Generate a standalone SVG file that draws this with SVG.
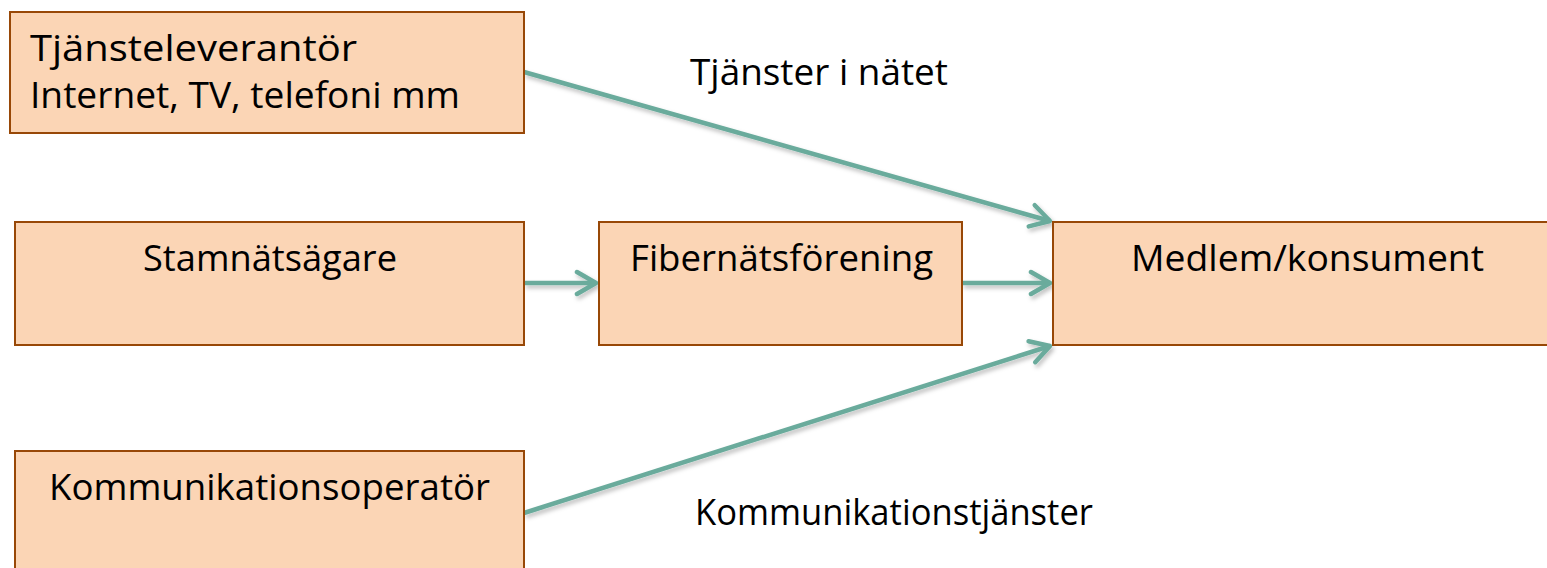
<svg xmlns="http://www.w3.org/2000/svg" width="1547" height="568" viewBox="0 0 1547 568">
<style>
.box{fill:#fbd5b5;stroke:#984807;stroke-width:2}
.t{font-family:"Open Sans","Liberation Sans",sans-serif;font-size:37px;fill:#000}
.c{fill:none;stroke:#6aab9c;stroke-width:4.5;marker-end:url(#ah)}
</style>
<defs>
<marker id="ah" markerUnits="userSpaceOnUse" viewBox="-24 -14 28 28" refX="0" refY="0" markerWidth="28" markerHeight="28" orient="auto">
<path d="M-19,-11 L0,0 L-19,11" fill="none" stroke="#6aab9c" stroke-width="4.5" stroke-linecap="round" stroke-linejoin="round"/>
</marker>
<filter id="sh" x="-10%" y="-50%" width="120%" height="200%">
<feDropShadow dx="2" dy="3" stdDeviation="2" flood-color="#000" flood-opacity="0.25"/>
</filter>
</defs>
<g id="connectors" filter="url(#sh)">
<line class="c" x1="524" y1="72" x2="1050" y2="221"/>
<line class="c" x1="524" y1="283" x2="596" y2="283"/>
<line class="c" x1="962" y1="283" x2="1050" y2="283"/>
<line class="c" x1="524" y1="513" x2="1050" y2="346"/>
</g>
<g id="label-tjanster">
<text class="t" x="690" y="85" textLength="258" lengthAdjust="spacingAndGlyphs">Tjänster i nätet</text>
</g>
<g id="label-komm">
<text class="t" x="695" y="525" textLength="398" lengthAdjust="spacingAndGlyphs">Kommunikationstjänster</text>
</g>
<g id="node-tjansteleverantor">
<rect class="box" x="10" y="12" width="514" height="121"/>
<text class="t" x="30" y="61" textLength="327" lengthAdjust="spacingAndGlyphs">Tjänsteleverantör</text>
<text class="t" x="30" y="108" textLength="430" lengthAdjust="spacingAndGlyphs">Internet, TV, telefoni mm</text>
</g>
<g id="node-stamnatsagare">
<rect class="box" x="15" y="222" width="509" height="123"/>
<text class="t" x="143" y="271" textLength="254" lengthAdjust="spacingAndGlyphs">Stamnätsägare</text>
</g>
<g id="node-fibernatsforening">
<rect class="box" x="599" y="222" width="363" height="123"/>
<text class="t" x="630" y="271" textLength="303" lengthAdjust="spacingAndGlyphs">Fibernätsförening</text>
</g>
<g id="node-medlem">
<rect class="box" x="1053" y="222" width="510" height="123"/>
<text class="t" x="1131" y="271" textLength="353" lengthAdjust="spacingAndGlyphs">Medlem/konsument</text>
</g>
<g id="node-kommunikationsoperator">
<rect class="box" x="15" y="451" width="509" height="130"/>
<text class="t" x="49" y="500" textLength="441" lengthAdjust="spacingAndGlyphs">Kommunikationsoperatör</text>
</g>
</svg>
